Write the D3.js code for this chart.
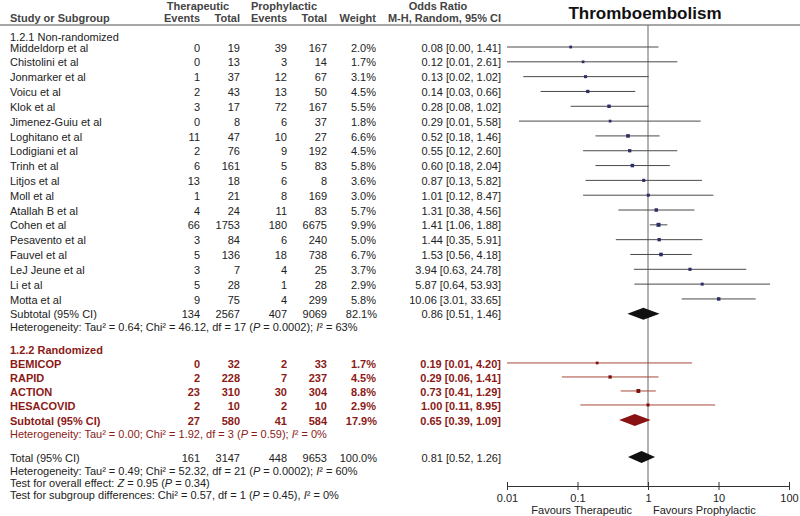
<!DOCTYPE html>
<html><head><meta charset="utf-8">
<script src="https://cdn.jsdelivr.net/npm/d3@7"></script>
<style>
body{margin:0;background:#fff;}
svg{display:block;font-family:"Liberation Sans",Arial,Helvetica,sans-serif;}
</style></head><body>
<svg id="c" width="800" height="516"></svg>
<script>
// ---------- DATA ----------
const nrNames = ["Middeldorp et al","Chistolini et al","Jonmarker et al","Voicu et al","Klok et al","Jimenez-Guiu et al","Loghitano et al","Lodigiani et al","Trinh et al","Litjos et al","Moll et al","Atallah B et al","Cohen et al","Pesavento et al","Fauvel et al","LeJ Jeune et al","Li et al","Motta et al"];
const nrThEvents = [0,0,1,2,3,0,11,2,6,13,1,4,66,3,5,3,5,9];
const nrThTotal  = [19,13,37,43,17,8,47,76,161,18,21,24,1753,84,136,7,28,75];
const nrPrEvents = [39,3,12,13,72,6,10,9,5,6,8,11,180,6,18,4,1,4];
const nrPrTotal  = [167,14,67,50,167,37,27,192,83,8,169,83,6675,240,738,25,28,299];
const nrWeight   = [2.0,1.7,3.1,4.5,5.5,1.8,6.6,4.5,5.8,3.6,3.0,5.7,9.9,5.0,6.7,3.7,2.9,5.8];
const nrOR       = [0.08,0.12,0.13,0.14,0.28,0.29,0.52,0.55,0.60,0.87,1.01,1.31,1.41,1.44,1.53,3.94,5.87,10.06];
const nrLow      = [0.004,0.008,0.017,0.03,0.08,0.0148,0.18,0.12,0.18,0.13,0.12,0.38,1.06,0.35,0.56,0.63,0.64,3.01];
const nrHigh     = [1.41,2.61,1.02,0.66,1.02,5.58,1.46,2.60,2.04,5.82,8.47,4.56,1.88,5.91,4.18,24.78,53.93,33.65];

const rNames    = ["BEMICOP","RAPID","ACTION","HESACOVID"];
const rThEvents = [0,2,23,2];
const rThTotal  = [32,228,310,10];
const rPrEvents = [2,7,30,2];
const rPrTotal  = [33,237,304,10];
const rWeight   = [1.7,4.5,8.8,2.9];
const rOR       = [0.19,0.29,0.73,1.00];
const rLow      = [0.008,0.06,0.41,0.11];
const rHigh     = [4.20,1.41,1.29,8.95];

// subtotal / total rows: [non-randomized subtotal, randomized subtotal, overall total]
const sumLabels   = ["Subtotal (95% CI)","Subtotal (95% CI)","Total (95% CI)"];
const sumThEvents = [134,27,161];
const sumThTotal  = [2567,580,3147];
const sumPrEvents = [407,41,448];
const sumPrTotal  = [9069,584,9653];
const sumWeight   = [82.1,17.9,100.0];
const sumOR       = [0.86,0.65,0.81];
const sumLow      = [0.51,0.39,0.52];
const sumHigh     = [1.46,1.09,1.26];

const groupTitles = ["1.2.1 Non-randomized","1.2.2 Randomized"];
const hetTexts = [
  "Heterogeneity: Tau² = 0.64; Chi² = 46.12, df = 17 (*P* = 0.0002); *I*² = 63%",
  "Heterogeneity: Tau² = 0.00; Chi² = 1.92, df = 3 (*P* = 0.59); *I*² = 0%",
  "Heterogeneity: Tau² = 0.49; Chi² = 52.32, df = 21 (*P* = 0.0002); *I*² = 60%"
];
const testTexts = [
  "Test for overall effect: *Z* = 0.95 (*P* = 0.34)",
  "Test for subgroup differences: Chi² = 0.57, df = 1 (*P* = 0.45), *I*² = 0%"
];
const tickValues = [0.01,0.1,1,10,100];
const tickLabels = ["0.01","0.1","1","10","100"];
const favourLabels = ["Favours Therapeutic","Favours Prophylactic"];
const chartTitle = "Thromboembolism";

// ---------- LAYOUT ----------
const svg = d3.select("#c");
const FS = 11;
const BLACK = "#222", GREY_HEAD = "#444";
const RED = "#8b1a16", RED_LINE = "#a8483a";
const x = d3.scaleLog().domain([0.01,100]).range([507,789]);
const y = d3.scaleLinear().domain([0,1]).range([47,61.82]);
const col = {name:10, ev1:200, tot1:240, ev2:287, tot2:327, wt:376, ci:501};
const fmt2 = d3.format(".2f");
const ciLabel = (o,l,h)=> fmt2(o)+" ["+fmt2(l)+", "+fmt2(h)+"]";
const clamp = v => Math.max(0.01, Math.min(100, v));

// slots (row positions in row units)
const slot = {
  nrHead:-0.72, nrSub:18, nrHet:18.88,
  rHead:20.42, rStart:21.32, rStep:0.945, rSub:25.17, rHet:26.05,
  tot:27.67, totHet:28.54, test0:29.35, test1:30.16
};

function richText(g, str, xx, yy, opts){
  const t = g.append("text").attr("x",xx).attr("y",yy)
    .attr("font-size",FS).attr("fill",opts.fill||BLACK)
    .attr("font-weight",opts.bold?"bold":"normal");
  str.split("*").forEach((s,i)=>{
    t.append("tspan").text(s).attr("font-style", i%2===1?"italic":"normal");
  });
  return t;
}
function txt(g, s, xx, yy, o){
  o=o||{};
  return g.append("text").attr("x",xx).attr("y",yy).text(s)
    .attr("font-size",o.fs||FS).attr("fill",o.fill||BLACK)
    .attr("font-weight",o.bold?"bold":"normal")
    .attr("text-anchor",o.anchor||"start");
}
const base = s => y(s)+4.6;

// ---------- HEADER ----------
const hd = svg.append("g");
txt(hd,"Therapeutic",198,10,{bold:true,fill:GREY_HEAD,anchor:"middle"});
txt(hd,"Prophylactic",284,10,{bold:true,fill:GREY_HEAD,anchor:"middle"});
txt(hd,"Odds Ratio",438,10,{bold:true,fill:GREY_HEAD,anchor:"middle"});
txt(hd,"Study or Subgroup",col.name,22,{bold:true,fill:GREY_HEAD});
txt(hd,"Events",col.ev1,22,{bold:true,fill:GREY_HEAD,anchor:"end"});
txt(hd,"Total",col.tot1,22,{bold:true,fill:GREY_HEAD,anchor:"end"});
txt(hd,"Events",col.ev2,22,{bold:true,fill:GREY_HEAD,anchor:"end"});
txt(hd,"Total",col.tot2,22,{bold:true,fill:GREY_HEAD,anchor:"end"});
txt(hd,"Weight",col.wt,22,{bold:true,fill:GREY_HEAD,anchor:"end"});
txt(hd,"M-H, Random, 95% CI",col.ci,22,{bold:true,fill:GREY_HEAD,anchor:"end"});
txt(hd,chartTitle,645,19,{bold:true,fs:17,fill:"#111",anchor:"middle"});
hd.append("line").attr("x1",0).attr("x2",800).attr("y1",25).attr("y2",25)
  .attr("stroke","#8a8a8a").attr("stroke-width",1.6);

// null line
svg.append("line").attr("x1",x(1)).attr("x2",x(1)).attr("y1",25).attr("y2",486)
  .attr("stroke","#666").attr("stroke-width",1);

// ---------- STUDY ROWS ----------
function studyRows(g, names, e1,t1,e2,t2,w,o,l,h, slotOf, style){
  names.forEach((nm,i)=>{
    const s = slotOf(i), yy = base(s), yc = y(s);
    const tOpt = {fill:style.text, bold:style.bold};
    txt(g,nm,col.name,yy,tOpt);
    txt(g,e1[i],col.ev1,yy,{...tOpt,anchor:"end"});
    txt(g,t1[i],col.tot1,yy,{...tOpt,anchor:"end"});
    txt(g,e2[i],col.ev2,yy,{...tOpt,anchor:"end"});
    txt(g,t2[i],col.tot2,yy,{...tOpt,anchor:"end"});
    txt(g,w[i].toFixed(1)+"%",col.wt,yy,{...tOpt,anchor:"end"});
    txt(g,ciLabel(o[i],l[i],h[i]),col.ci,yy,{...tOpt,anchor:"end"});
    g.append("line").attr("x1",x(clamp(l[i]))).attr("x2",x(clamp(h[i])))
      .attr("y1",yc).attr("y2",yc).attr("stroke",style.line).attr("stroke-width",1);
    const sz = 1.8 + Math.sqrt(w[i])*0.7;
    g.append("rect").attr("x",x(o[i])-sz/2).attr("y",yc-sz/2)
      .attr("width",sz).attr("height",sz).attr("fill",style.mark);
  });
}
function sumRow(g, k, s, style){
  const yy = base(s), yc = y(s);
  const tOpt = {fill:style.text, bold:style.bold};
  txt(g,sumLabels[k],col.name,yy,tOpt);
  txt(g,sumThEvents[k],col.ev1,yy,{...tOpt,anchor:"end"});
  txt(g,sumThTotal[k],col.tot1,yy,{...tOpt,anchor:"end"});
  txt(g,sumPrEvents[k],col.ev2,yy,{...tOpt,anchor:"end"});
  txt(g,sumPrTotal[k],col.tot2,yy,{...tOpt,anchor:"end"});
  txt(g,sumWeight[k].toFixed(1)+"%",col.wt+1,yy,{...tOpt,anchor:"end"});
  txt(g,ciLabel(sumOR[k],sumLow[k],sumHigh[k]),col.ci,yy,{...tOpt,anchor:"end"});
  const hh = 6;
  g.append("path").attr("d",
    `M${x(sumLow[k])},${yc}L${x(sumOR[k])},${yc-hh}L${x(sumHigh[k])},${yc}L${x(sumOR[k])},${yc+hh}Z`)
    .attr("fill",style.diamond);
}

const gNR = svg.append("g");
txt(gNR,groupTitles[0],col.name,base(slot.nrHead));
studyRows(gNR,nrNames,nrThEvents,nrThTotal,nrPrEvents,nrPrTotal,nrWeight,nrOR,nrLow,nrHigh,
  i=>i,{text:BLACK,bold:false,line:"#4a4a4a",mark:"#2b2f66"});
sumRow(gNR,0,slot.nrSub,{text:BLACK,bold:false,diamond:"#111"});
richText(gNR,hetTexts[0],col.name,base(slot.nrHet),{});

const gR = svg.append("g");
txt(gR,groupTitles[1],col.name,base(slot.rHead),{fill:RED,bold:true});
studyRows(gR,rNames,rThEvents,rThTotal,rPrEvents,rPrTotal,rWeight,rOR,rLow,rHigh,
  i=>slot.rStart+i*slot.rStep,{text:RED,bold:true,line:RED_LINE,mark:"#7a0f0c"});
sumRow(gR,1,slot.rSub,{text:RED,bold:true,diamond:"#8b1212"});
richText(gR,hetTexts[1],col.name,base(slot.rHet),{fill:RED});

const gT = svg.append("g");
sumRow(gT,2,slot.tot,{text:BLACK,bold:false,diamond:"#111"});
richText(gT,hetTexts[2],col.name,base(slot.totHet),{});
richText(gT,testTexts[0],col.name,base(slot.test0),{});
richText(gT,testTexts[1],col.name,base(slot.test1),{});

// ---------- AXIS ----------
const ax = svg.append("g").attr("transform","translate(0,486)")
  .call(d3.axisBottom(x).tickValues(tickValues).tickFormat((d,i)=>tickLabels[i]).tickSize(4).tickSizeOuter(0));
ax.select(".domain").attr("stroke","#333");
ax.selectAll(".tick line").attr("y1",-4).attr("y2",4).attr("stroke","#333");
ax.selectAll(".tick text").attr("y",8).attr("font-size",FS).attr("fill",BLACK)
  .attr("font-family",'"Liberation Sans",Arial,sans-serif');
txt(svg,favourLabels[0],x(1)-16,514,{anchor:"end"});
txt(svg,favourLabels[1],x(1)+5,514,{anchor:"start"});
</script>
</body></html>
